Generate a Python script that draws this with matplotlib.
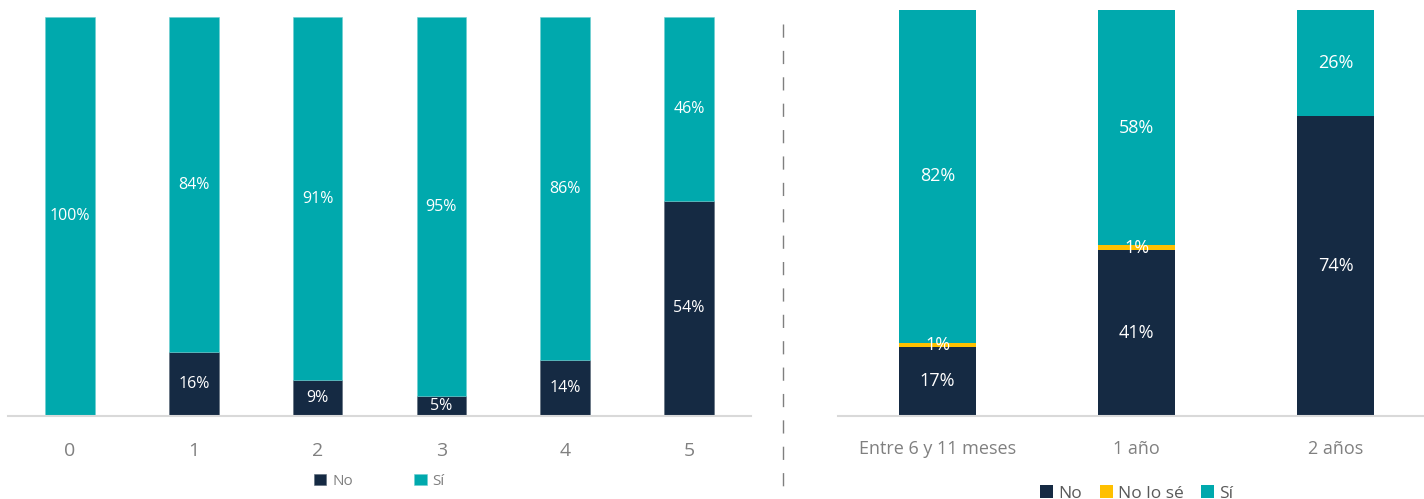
import matplotlib.pyplot as plt
import numpy as np

plt.rcParams['font.family'] = ['Open Sans', 'DejaVu Sans']

NAVY = "#152A43"
TEAL = "#00A9AD"
YELLOW = "#FFC000"
GREY_TXT = "#808080"

# left panel: number of children
left_cats = ["0", "1", "2", "3", "4", "5"]
left_no = [0, 16, 9, 5, 14, 54]
left_si = [100, 84, 91, 95, 86, 46]

# right panel: age group
right_cats = ["Entre 6 y 11 meses", "1 año", "2 años"]
right_no = [17, 41, 74]
right_nolose = [1, 1, 0]
right_si = [82, 58, 26]

W, H = 1424, 499
fig = plt.figure(figsize=(W / 100, H / 100), dpi=100)


def px_axes(x0, x1, y_base, y_top):
    return fig.add_axes([x0 / W, (H - y_base) / H, (x1 - x0) / W, (y_base - y_top) / H])


def style(ax):
    for s in ["top", "left", "right"]:
        ax.spines[s].set_visible(False)
    ax.spines["bottom"].set_color("#D9D9D9")
    ax.spines["bottom"].set_linewidth(1.5)
    ax.set_yticks([])
    ax.tick_params(axis="x", length=0, colors=GREY_TXT)


# ---- left chart
axl = px_axes(8, 751, 416, 17)
xl = np.arange(len(left_cats))
no = np.array(left_no)
si = np.array(left_si)
axl.bar(xl, no, 0.4, color=NAVY, label="No", edgecolor="#5a6878", linewidth=0.4)
axl.bar(xl, si, 0.4, bottom=no, color=TEAL, label="Sí", edgecolor="#6ccfd1", linewidth=0.4)
for i in xl:
    if no[i] > 0:
        axl.text(i, no[i] / 2, f"{no[i]}%", ha="center", va="center", color="white", fontsize=11.5)
    if si[i] > 0:
        axl.text(i, no[i] + si[i] / 2, f"{si[i]}%", ha="center", va="center", color="white", fontsize=11.5)
axl.set_xlim(-0.5, len(left_cats) - 0.5)
axl.set_ylim(0, 100)
axl.set_xticks(xl)
axl.set_xticklabels(left_cats, fontsize=14)
axl.tick_params(axis="x", pad=19)
style(axl)
axl.legend(loc="upper center", bbox_to_anchor=(0.5, -0.11), ncol=2, frameon=False,
           fontsize=11, labelcolor=GREY_TXT, handlelength=0.8, handleheight=0.8,
           handletextpad=0.4, columnspacing=4)

# ---- right chart
axr = px_axes(838, 1424, 416, 10)
xr = np.arange(len(right_cats))
rn = np.array(right_no)
ry = np.array(right_nolose)
rs = np.array(right_si)
axr.bar(xr, rn, 0.39, color=NAVY, label="No")
axr.bar(xr, ry, 0.39, bottom=rn, color=YELLOW, label="No lo sé")
axr.bar(xr, rs, 0.39, bottom=rn + ry, color=TEAL, label="Sí")
for i in xr:
    axr.text(i, rn[i] / 2, f"{rn[i]}%", ha="center", va="center", color="white", fontsize=13)
    if ry[i] > 0:
        axr.text(i, rn[i] + ry[i] / 2, f"{ry[i]}%", ha="center", va="center", color="white", fontsize=13)
    axr.text(i, rn[i] + ry[i] + rs[i] / 2, f"{rs[i]}%", ha="center", va="center", color="white", fontsize=13)
axr.set_xlim(-0.5, -0.5 + 586 / 199)
axr.set_ylim(0, 100)
axr.set_xticks(xr)
axr.set_xticklabels(right_cats, fontsize=13, color="#595959")
axr.tick_params(axis="x", pad=17)
style(axr)
axr.legend(loc="upper center", bbox_to_anchor=(0.51, -0.162), ncol=3, frameon=False,
           fontsize=12.5, labelcolor="#595959", handlelength=0.75, handleheight=0.75,
           handletextpad=0.3, columnspacing=1.0, borderaxespad=0, borderpad=0.2)

# dashed divider between the two charts
fig.add_artist(plt.Line2D([783 / W, 783 / W], [1 - 24 / H, 1 - 492 / H],
                          transform=fig.transFigure, color="#7f7f7f",
                          linewidth=1, linestyle=(0, (9.5, 9.5))))

fig.savefig("out.png", dpi=100)
